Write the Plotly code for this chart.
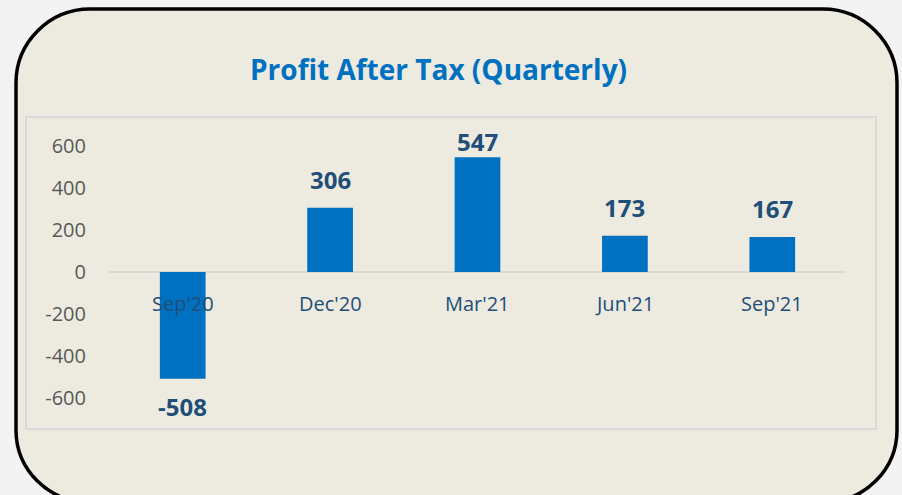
import plotly.graph_objects as go

categories = ["Sep'20", "Dec'20", "Mar'21", "Jun'21", "Sep'21"]
values = [-508, 306, 547, 173, 167]
y_ticks = [600, 400, 200, 0, -200, -400, -600]
title_text = "Profit After Tax (Quarterly)"

W, H = 902, 495
ML, MR, MT, MB = 109, 56, 117, 66
PW, PH = W - ML - MR, H - MT - MB

def X(px):
    return (px - ML) / PW

def Y(py):
    return (H - MB - py) / PH

# y scale: 0.21 px per unit, zero at px 272
scale = 0.21
zero_px = 272
y_top = (zero_px - MT) / scale
y_bot = -((H - MB) - zero_px) / scale

fig = go.Figure()
fig.add_trace(go.Bar(
    x=categories, y=values,
    marker=dict(color="#0070C0", line=dict(width=0)),
    width=0.31, hoverinfo="x+y",
))

# rounded card
l, r, t, b = 16, 897, 9, 502
rt, rb = 74, 72
k = 0.45
path = (
    f"M {X(l)},{Y(t+rt)} "
    f"C {X(l)},{Y(t+rt*k)} {X(l+rt*k)},{Y(t)} {X(l+rt)},{Y(t)} "
    f"L {X(r-rt)},{Y(t)} "
    f"C {X(r-rt*k)},{Y(t)} {X(r)},{Y(t+rt*k)} {X(r)},{Y(t+rt)} "
    f"L {X(r)},{Y(b-rb)} "
    f"C {X(r)},{Y(b-rb*k)} {X(r-rb*k)},{Y(b)} {X(r-rb)},{Y(b)} "
    f"L {X(l+rb)},{Y(b)} "
    f"C {X(l+rb*k)},{Y(b)} {X(l)},{Y(b-rb*k)} {X(l)},{Y(b-rb)} Z"
)
shapes = [
    dict(type="path", xref="paper", yref="paper", path=path,
         fillcolor="#EDEBE0", line=dict(color="#000000", width=3.5), layer="below"),
    dict(type="rect", xref="paper", yref="paper",
         x0=X(26), x1=X(876), y0=Y(429), y1=Y(117),
         line=dict(color="#D9D9D9", width=2), fillcolor="rgba(0,0,0,0)", layer="below"),
]

annotations = []
# category labels at zero line
for c in categories:
    annotations.append(dict(x=c, y=0, xref="x", yref="y", text=c, showarrow=False,
                            yshift=-31, font=dict(family="Open Sans", size=20, color="#1F4E79")))
# data labels
off = 28 / scale
for c, v in zip(categories, values):
    ly = min(v + off, 620) if v >= 0 else v - off
    annotations.append(dict(x=c, y=ly, xref="x", yref="y", text=f"<b>{v}</b>", showarrow=False,
                            yanchor="middle",
                            font=dict(family="Open Sans", size=24, color="#1F4E79")))
# title
annotations.append(dict(x=X(438), y=Y(69), xref="paper", yref="paper", text=f"<b>{title_text}</b>",
                        showarrow=False, xanchor="center", yanchor="middle",
                        font=dict(family="Open Sans", size=28, color="#0070C0")))

fig.update_layout(
    width=W, height=H,
    margin=dict(l=ML, r=MR, t=MT, b=MB, pad=0),
    paper_bgcolor="#F3F3F3",
    plot_bgcolor="rgba(0,0,0,0)",
    shapes=shapes,
    annotations=annotations,
    showlegend=False,
    bargap=0.69,
    xaxis=dict(showticklabels=False, showgrid=False, zeroline=False, showline=False,
               range=[-0.5, 4.5], fixedrange=True),
    yaxis=dict(range=[y_bot, y_top], tickvals=y_ticks, ticktext=[str(v) for v in y_ticks],
               showgrid=False, zeroline=True, zerolinecolor="#D9D9D9", zerolinewidth=2,
               showline=False, ticks="", ticklabelstandoff=22,
               tickfont=dict(family="Open Sans", size=20, color="#595959"), fixedrange=True),
)

fig.write_html("out.html", config={"displayModeBar": False},
               post_script="document.body.style.margin='0';document.body.style.background='#F3F3F3';")
